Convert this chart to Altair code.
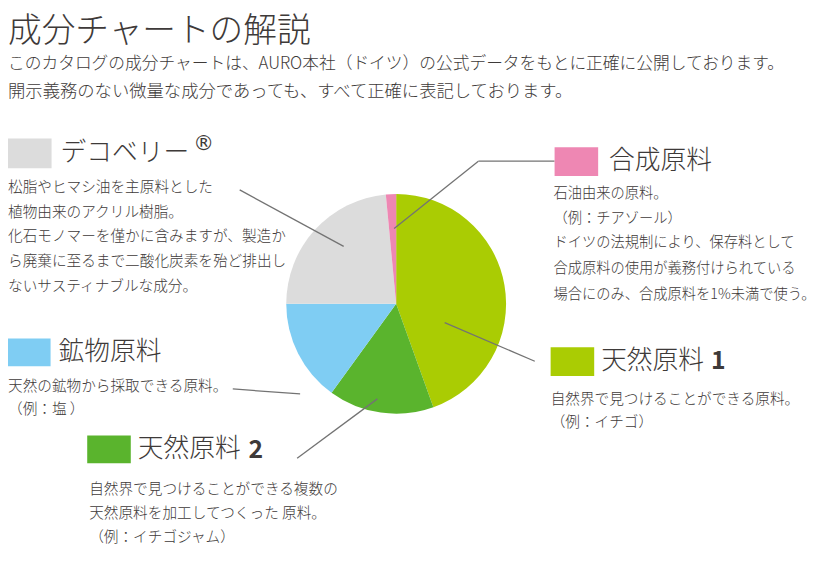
import altair as alt
import pandas as pd

# ---- data ----
categories = ["天然原料 1", "天然原料 2", "鉱物原料", "デコベリー", "合成原料"]
shares = [44.5, 15.5, 15.0, 23.5, 1.5]
slice_colors = ["#aacc03", "#5ab42d", "#7fcdf3", "#dcdcdc", "#ee87b3"]
square_colors = ["#aacc03", "#6abd5e", "#7fcdf3", "#dcdcdc", "#ee87b3"]

title_text = "成分チャートの解説"
intro_lines = [
    "このカタログの成分チャートは、AURO本社（ドイツ）の公式データをもとに正確に公開しております。",
    "開示義務のない微量な成分であっても、すべて正確に表記しております。",
]
label_names = ["天然原料", "天然原料", "鉱物原料", "デコベリー", "合成原料"]
label_numbers = ["1", "2", "", "", ""]
descriptions = [
    ["自然界で見つけることができる原料。", "（例：イチゴ）"],
    ["自然界で見つけることができる複数の", "天然原料を加工してつくった 原料。", "（例：イチゴジャム）"],
    ["天然の鉱物から採取できる原料。", "（例：塩 ）"],
    ["松脂やヒマシ油を主原料とした", "植物由来のアクリル樹脂。", "化石モノマーを僅かに含みますが、製造か",
     "ら廃棄に至るまで二酸化炭素を殆ど排出し", "ないサスティナブルな成分。"],
    ["石油由来の原料。", "（例：チアゾール）", "ドイツの法規制により、保存料として",
     "合成原料の使用が義務付けられている", "場合にのみ、合成原料を1%未満で使う。"],
]

# ---- layout (page pixel coordinates) ----
M = 8          # page margin
L = 5          # shift for items that sit left of the page margin
FONT = "Noto Sans CJK JP"
TXT = "#3e3a39"
pie_cx, pie_cy, pie_r = 400, 304, 111
square_boxes = [(556, 348, 600, 377), (88, 437, 132, 465), (3 + L, 339, 46 + L, 367),
                (3 + L, 137, 47 + L, 167), (560, 146, 604, 175)]
label_pos = [(607, 362), (139, 451), (54 + L, 353), (56 + L, 152), (615, 160)]
number_pos = [(718, 362), (251, 452), None, None, None]
desc_pos = [(556, [401, 424]), (90, [492, 516, 541]), (3 + L, [388, 411]),
            (3 + L, [187, 212, 237, 262, 287]), (559, [193, 218, 243, 269, 295])]
desc_size = [14.8, 14.8, 14.8, 14.8, 14.4]
leaders = [(449, 323, 540, 362), (381, 400, 300, 460), (303, 395, 235, 390),
           (347, 246, 242, 189), (398, 228, 483, 160), (483, 160, 560, 160)]

# ---- pie ----
pie_df = pd.DataFrame({"cat": categories, "share": shares, "idx": range(len(categories))})
pie = alt.Chart(pie_df).mark_arc(outerRadius=pie_r, stroke=None).encode(
    theta=alt.Theta("share:Q", stack=True),
    order=alt.Order("idx:Q"),
    color=alt.Color("cat:N", scale=alt.Scale(domain=categories, range=slice_colors), legend=None),
    x=alt.value(pie_cx - M),
    y=alt.value(pie_cy - M),
)

# ---- leader lines ----
lead_df = pd.DataFrame([{"x": a - M, "y": b - M, "x2": c - M, "y2": d - M} for a, b, c, d in leaders])
lines = alt.Chart(lead_df).mark_rule(color="#737373", strokeWidth=1.3).encode(
    x=alt.X("x:Q", scale=None, axis=None), y=alt.Y("y:Q", scale=None, axis=None),
    x2="x2:Q", y2="y2:Q",
)

# ---- colour squares ----
sq_df = pd.DataFrame([{"cat": categories[i], "x": b[0] - M, "y": b[1] - M, "x2": b[2] - M, "y2": b[3] - M}
                      for i, b in enumerate(square_boxes)])
squares = alt.Chart(sq_df).mark_rect().encode(
    x=alt.X("x:Q", scale=None, axis=None), y=alt.Y("y:Q", scale=None, axis=None),
    x2="x2:Q", y2="y2:Q",
    color=alt.Color("cat:N", scale=alt.Scale(domain=categories, range=square_colors), legend=None),
)


def text_layer(rows, size, weight="normal", font=FONT):
    df = pd.DataFrame([{"x": x - M, "y": y - M, "t": t} for x, y, t in rows])
    return alt.Chart(df).mark_text(align="left", baseline="middle", font=font, fontSize=size,
                                   fontWeight=weight, color=TXT).encode(
        x=alt.X("x:Q", scale=None, axis=None), y=alt.Y("y:Q", scale=None, axis=None), text="t:N")


title = text_layer([(3 + L, 30, title_text)], 34, 300)
intro1 = text_layer([(3 + L, 62, intro_lines[0])], 16.9, 300)
intro2 = text_layer([(3 + L, 90, intro_lines[1])], 17.5, 300)
labels = text_layer([(label_pos[i][0], label_pos[i][1], label_names[i]) for i in range(5)], 26, 300)
numbers = text_layer([(number_pos[i][0], number_pos[i][1], label_numbers[i])
                      for i in range(5) if number_pos[i]], 25, "bold")
reg = text_layer([(190 + L, 143, "®")], 21, "normal", "DejaVu Sans")
desc_layers = []
for i, (dx, ys) in enumerate(desc_pos):
    rows = [(dx, y, line) for y, line in zip(ys, descriptions[i])]
    desc_layers.append(text_layer(rows, desc_size[i], 300))

chart = alt.layer(pie, lines, squares, title, intro1, intro2, labels, numbers, reg, *desc_layers).properties(
    width=816, height=552, padding=0,
    autosize=alt.AutoSizeParams(type="none"),
    background="white",
).configure_view(stroke=None)

chart.save("out.html", embed_options={"renderer": "svg", "actions": False})
